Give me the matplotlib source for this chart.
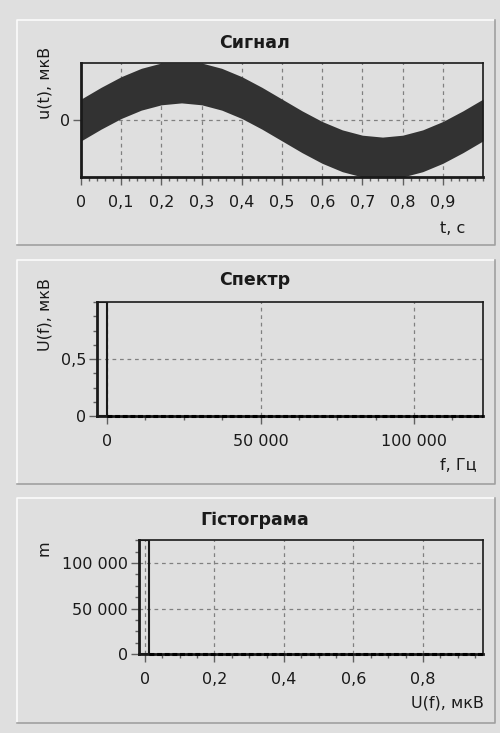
import matplotlib
matplotlib.use("Agg")
import matplotlib.pyplot as plt
from matplotlib.ticker import FixedLocator, MultipleLocator, FuncFormatter

# --- signal: envelope of the noisy sine, u(t) in мкВ ---
sig_t = [0.00, 0.05, 0.10, 0.15, 0.20, 0.25, 0.30, 0.35, 0.40, 0.45, 0.50,
         0.55, 0.60, 0.65, 0.70, 0.75, 0.80, 0.85, 0.90, 0.95, 1.00]
sig_upper = [0.55, 0.86, 1.14, 1.36, 1.50, 1.50, 1.50, 1.36, 1.14, 0.86, 0.55,
             0.24, -0.04, -0.26, -0.40, -0.45, -0.40, -0.26, -0.04, 0.24, 0.55]
sig_lower = [-0.55, -0.24, 0.04, 0.26, 0.40, 0.45, 0.40, 0.26, 0.04, -0.24, -0.55,
             -0.86, -1.14, -1.36, -1.50, -1.50, -1.50, -1.36, -1.14, -0.86, -0.55]
sig_xticks = [0, 0.1, 0.2, 0.3, 0.4, 0.5, 0.6, 0.7, 0.8, 0.9]
sig_yticks = [0]

# --- spectrum ---
spec_f = [0]
spec_u = [1.0]
spec_floor_f = [0, 122500]
spec_floor_u = [0, 0]
spec_xticks = [0, 50000, 100000]
spec_yticks = [0, 0.5]

# --- histogram of spectrum values ---
hist_u = [-0.017]
hist_m = [125000]
hist_floor_u = [0.012, 0.973]
hist_floor_m = [0, 0]
hist_xticks = [0, 0.2, 0.4, 0.6, 0.8]
hist_yticks = [0, 50000, 100000]

BG = "#dfdfdf"
INK = "#1a1a1a"
W, H = 500, 733

plt.rcParams["font.family"] = ["DejaVu Sans"]

fig = plt.figure(figsize=(W / 100, H / 100), dpi=100, facecolor=BG)

# pixel canvas for panels and free text
bg = fig.add_axes([0, 0, 1, 1], zorder=-1)
bg.set_xlim(0, W)
bg.set_ylim(H, 0)
bg.axis("off")

for top, bottom in [(20, 245), (260, 484), (498, 723)]:
    bg.plot([17, 17, 495], [bottom, top, top], color="#fbfbfb", lw=1.2)
    bg.plot([17, 495, 495], [bottom, bottom, top], color="#a0a0a0", lw=1.2)


def comma(x, pos):
    if abs(x) >= 1000:
        return f"{int(round(x)):,}".replace(",", " ")
    s = f"{x:.2f}".rstrip("0").rstrip(".")
    return s.replace(".", ",")


def frame(left, top, right, bottom):
    return fig.add_axes([left / W, (H - bottom) / H, (right - left) / W, (bottom - top) / H])


def style(ax, xticks, yticks, xminor, yminor):
    ax.set_facecolor("none")
    for side in ["left", "bottom"]:
        ax.spines[side].set_linewidth(2.0)
        ax.spines[side].set_color(INK)
    for side in ["top", "right"]:
        ax.spines[side].set_linewidth(1.2)
        ax.spines[side].set_color(INK)
    ax.xaxis.set_major_locator(FixedLocator(xticks))
    ax.yaxis.set_major_locator(FixedLocator(yticks))
    if xminor:
        ax.xaxis.set_minor_locator(MultipleLocator(xminor))
    if yminor:
        ax.yaxis.set_minor_locator(MultipleLocator(yminor))
    ax.xaxis.set_major_formatter(FuncFormatter(comma))
    ax.yaxis.set_major_formatter(FuncFormatter(comma))
    ax.tick_params(which="major", length=6, width=1, color="#606060",
                   labelsize=11.5, labelcolor=INK)
    ax.tick_params(which="minor", length=3, width=1, color="#606060")
    ax.tick_params(axis="x", which="major", pad=7)
    ax.tick_params(axis="y", which="major", pad=2)
    ax.grid(True, which="major", color="#808080", lw=0.9, ls=(0, (3, 3)))
    ax.set_axisbelow(True)


# Сигнал
ax1 = frame(81, 63, 483, 177)
ax1.fill_between(sig_t, sig_lower, sig_upper, color="#323232", lw=0, zorder=2)
ax1.set_xlim(0, 1)
ax1.set_ylim(-1.5, 1.5)
style(ax1, sig_xticks, sig_yticks, 0.02, None)

# Спектр
ax2 = frame(97, 302, 483, 416)
ax2.bar(spec_f, spec_u, width=-3300, align="edge", fill=False,
        edgecolor=INK, lw=1.5, zorder=3)
ax2.plot(spec_floor_f, spec_floor_u, color="black", lw=2.2,
         ls=(0, (1.6, 0.9)), clip_on=False, zorder=4)
ax2.set_xlim(-3300, 122500)
ax2.set_ylim(0, 1.0)
style(ax2, spec_xticks, spec_yticks, 12500, 0.125)

# Гістограма
ax3 = frame(139, 540, 483, 654)
ax3.bar(hist_u, hist_m, width=0.029, align="edge", fill=False,
        edgecolor=INK, lw=1.5, zorder=3)
ax3.plot(hist_floor_u, hist_floor_m, color="black", lw=2.2,
         ls=(0, (1.6, 0.9)), clip_on=False, zorder=4)
ax3.set_xlim(-0.017, 0.973)
ax3.set_ylim(0, 125300)
style(ax3, hist_xticks, hist_yticks, 0.05, 12500)

# titles
for y, title in [(48, "Сигнал"), (285, "Спектр"), (525, "Гістограма")]:
    bg.text(255, y, title, ha="center", va="baseline", fontsize=12.5,
            fontweight="bold", color=INK)

# axis captions
bg.text(465, 233, "t, с", ha="right", va="baseline", fontsize=11.5, color=INK)
bg.text(477, 470, "f, Гц", ha="right", va="baseline", fontsize=11.5, color=INK)
bg.text(484, 707, "U(f), мкВ", ha="right", va="baseline", fontsize=11.5, color=INK)
bg.text(45, 83, "u(t), мкВ", ha="center", va="center", rotation=90,
        fontsize=11.5, color=INK)
bg.text(45, 315, "U(f), мкВ", ha="center", va="center", rotation=90,
        fontsize=11.5, color=INK)
bg.text(44, 548, "m", ha="center", va="center", rotation=90,
        fontsize=11.5, color=INK)

fig.savefig("out.png", dpi=100, facecolor=BG)
